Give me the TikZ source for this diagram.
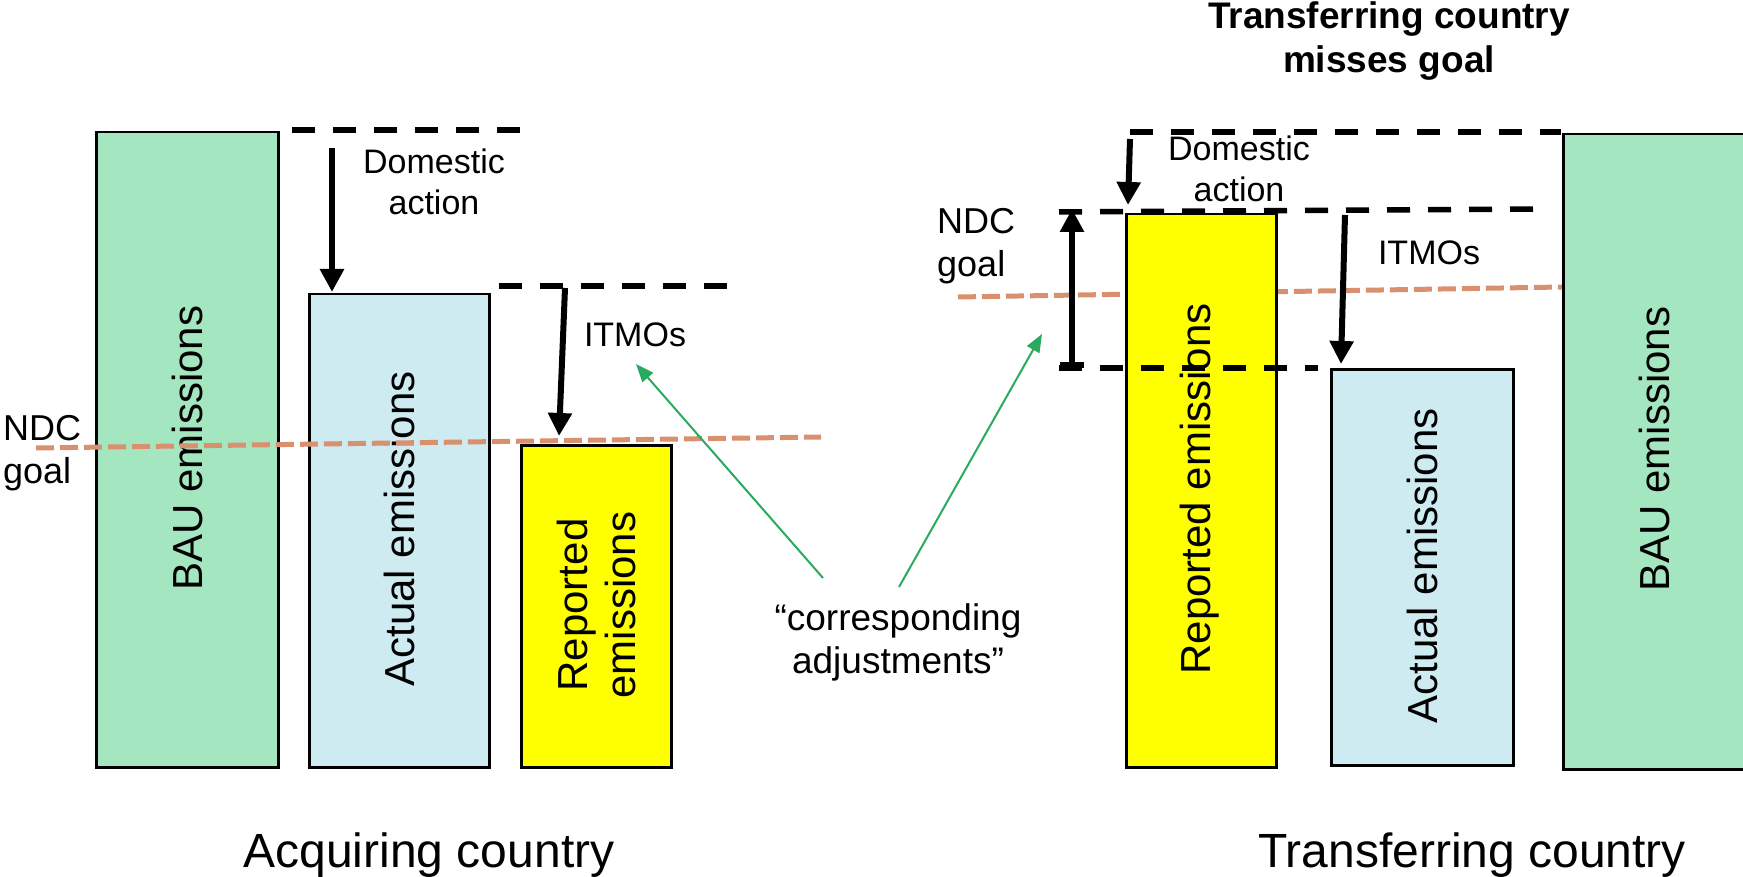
\documentclass[tikz,border=0pt]{standalone}
\usepackage{fontspec}
\setmainfont{Liberation Sans}
\usetikzlibrary{arrows.meta}
\definecolor{baugreen}{RGB}{163,230,192}
\definecolor{actblue}{RGB}{205,235,240}
\definecolor{repyellow}{RGB}{255,255,0}
\definecolor{ndcorange}{RGB}{216,144,110}
\definecolor{adjgreen}{RGB}{40,170,95}
\tikzset{
  barbox/.style={draw=black, line width=2.5pt, inner sep=0pt, anchor=north west},
  blackdash/.style={draw=black, line width=5.5pt, dash pattern=on 23pt off 18pt},
  ndcline/.style={draw=ndcorange, line width=5pt, dash pattern=on 18pt off 6pt},
  bigarrow/.style={draw=black, line width=6pt, -{Triangle[width=23pt,length=23pt]}},
  goalarrow/.style={draw=black, line width=6pt, {Bar[width=24pt]}-{Triangle[width=23pt,length=23pt]}},
  adjarrow/.style={draw=adjgreen, line width=2pt, -{Triangle[width=14pt,length=18pt]}},
  lbl/.style={font=\fontsize{34}{41}\selectfont, align=center, inner sep=0pt},
  ndclbl/.style={font=\fontsize{36}{43}\selectfont, align=left, inner sep=0pt, anchor=base west},
  adjlbl/.style={font=\fontsize{37}{43}\selectfont, align=center, inner sep=0pt},
  vlbl/.style={font=\fontsize{42}{48}\selectfont, rotate=90, align=center, inner sep=0pt},
  country/.style={font=\fontsize{48}{56}\selectfont, inner sep=0pt, anchor=base},
}
\begin{document}
\begin{tikzpicture}[x=1pt, y=-1pt]
\useasboundingbox (0,0) rectangle (1743,877);

% ---------------- Acquiring country ----------------
\node[barbox, fill=baugreen, minimum width=182pt, minimum height=635pt] (bauL) at (95,131) {};
\node[barbox, fill=actblue, minimum width=180pt, minimum height=473pt] (actL) at (308,293) {};
\node[barbox, fill=repyellow, minimum width=150pt, minimum height=322pt] (repL) at (520,444) {};
\node[vlbl] (bauLt) at (187,448) {BAU emissions};
\node[vlbl] (actLt) at (399,529) {Actual emissions};
\node[vlbl] (repLt) at (596,605) {Reported\\emissions};

\coordinate (ndcLa) at (36,448);
\coordinate (ndcLb) at (821,437);
\draw[ndcline] (ndcLa) -- (ndcLb);

\coordinate (topLa) at (292,130);
\coordinate (topLb) at (524,130);
\draw[blackdash] (topLa) -- (topLb);
\coordinate (midLa) at (499,286);
\coordinate (midLb) at (730,286);
\draw[blackdash] (midLa) -- (midLb);

\coordinate (domLs) at (332,148);
\coordinate (domLe) at (332,292);
\draw[bigarrow] (domLs) -- (domLe);
\coordinate (itLs) at (565,288);
\coordinate (itLe) at (559,436);
\draw[bigarrow] (itLs) -- (itLe);

\node[lbl, anchor=base] (domLt) at (434,215) {Domestic\\action};
\node[lbl, anchor=base] (itLt) at (635,346) {ITMOs};
\node[ndclbl] (ndcLt) at (3,483) {NDC\\goal};

% ---------------- Transferring country ----------------
\coordinate (ndcRa) at (958,297);
\coordinate (ndcRb) at (1562,287);
\draw[ndcline] (ndcRa) -- (ndcRb);

\node[barbox, fill=repyellow, minimum width=150pt, minimum height=553pt] (repR) at (1125,213) {};
\node[barbox, fill=actblue, minimum width=182pt, minimum height=396pt] (actR) at (1330,368) {};
\node[barbox, fill=baugreen, minimum width=184pt, minimum height=635pt] (bauR) at (1562,133) {};
\node[vlbl] (repRt) at (1200,489) {Reported emissions};
\node[vlbl] (actRt) at (1422,566) {Actual emissions};
\node[vlbl] (bauRt) at (1654,449) {BAU emissions};

\coordinate (topRa) at (1130,132);
\coordinate (topRb) at (1561,132);
\draw[blackdash] (topRa) -- (topRb);
\coordinate (midRa) at (1059,212);
\coordinate (midRb) at (1542,209);
\draw[blackdash] (midRa) -- (midRb);
\coordinate (lowRa) at (1059,368);
\coordinate (lowRb) at (1318,368);
\draw[blackdash] (lowRa) -- (lowRb);

\coordinate (domRs) at (1130,139);
\coordinate (domRe) at (1128,205);
\draw[bigarrow] (domRs) -- (domRe);
\coordinate (itRs) at (1345,215);
\coordinate (itRe) at (1341,364);
\draw[bigarrow] (itRs) -- (itRe);
\coordinate (goalRs) at (1072,368);
\coordinate (goalRe) at (1072,209);
\draw[goalarrow] (goalRs) -- (goalRe);

\node[lbl, anchor=base] (domRt) at (1239,202) {Domestic\\action};
\node[lbl, anchor=base] (itRt) at (1429,265) {ITMOs};
\node[ndclbl] (ndcRt) at (937,277) {NDC\\goal};

\node[font=\bfseries\fontsize{37}{44}\selectfont, align=center, inner sep=0pt, anchor=base] (title) at (1389,73) {Transferring country\\misses goal};

% ---------------- corresponding adjustments ----------------
\node[adjlbl, anchor=base] (adj) at (898,673) {``corresponding\\adjustments''};
\coordinate (adjA) at (823,578);
\coordinate (adjAe) at (636,364);
\draw[adjarrow] (adjA) -- (adjAe);
\coordinate (adjB) at (899,587);
\coordinate (adjBe) at (1042,334);
\draw[adjarrow] (adjB) -- (adjBe);

\node[country] (acq) at (429,867) {Acquiring country};
\node[country] (trf) at (1472,867) {Transferring country};
\end{tikzpicture}
\end{document}
